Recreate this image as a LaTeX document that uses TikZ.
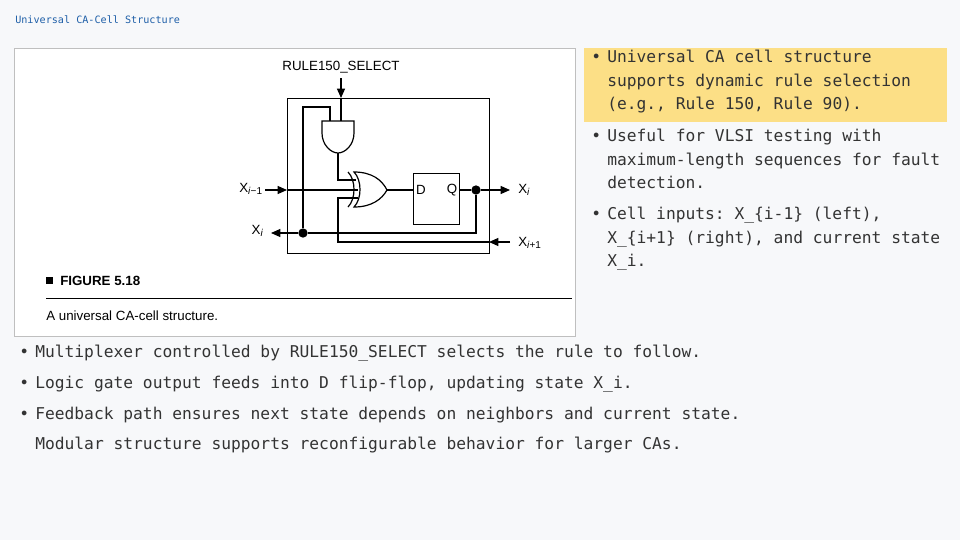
\documentclass[tikz,border=0pt]{standalone}
\usepackage{fontspec}
\setmainfont{Liberation Sans}
\setmonofont{DejaVu Sans Mono}
\usetikzlibrary{arrows.meta}
\definecolor{bg}{HTML}{F7F8FA}
\definecolor{hl}{HTML}{FCDF86}
\definecolor{ttl}{HTML}{1F5FA8}
\definecolor{txt}{HTML}{333333}
\newcommand{\sbs}[1]{\textsubscript{\fontsize{7.5}{8}\selectfont #1}}
\newcommand{\bu}{\makebox[12pt][l]{•}}
\begin{document}
\begin{tikzpicture}[x=0.75pt,y=-0.75pt,
  w/.style={line width=0.9pt},
  arr/.style={w,-{Triangle[length=7pt,width=6pt]}},
  dot/.style={circle,fill,inner sep=0pt,minimum size=7pt},
  lab/.style={font=\fontsize{10}{11}\selectfont,inner sep=0pt},
  bul/.style={font=\ttfamily\fontsize{12.2}{17.5}\selectfont,color=txt,anchor=north west,align=left,inner sep=0pt}]
\fill[bg] (0,0) rectangle (960,540);
\useasboundingbox (0,0) rectangle (960,540);
\node[font=\ttfamily\fontsize{7.6}{9}\selectfont,color=ttl,anchor=west,inner sep=0pt] (title) at (15,20) {Universal CA-Cell Structure};
% figure panel
\node[draw=black!25,fill=white,minimum width=561*0.75pt,minimum height=288*0.75pt,anchor=north west,inner sep=0pt] (panel) at (14,48) {};
\node[draw,w,minimum width=202*0.75pt,minimum height=155*0.75pt,anchor=north west,inner sep=0pt] (cell) at (287,98) {};
\node[lab] (rule) at (341,67) {RULE150\_SELECT};
\coordinate (rtop) at (341,78);
\coordinate (rin) at (341,121);
\draw[arr] (rtop) -- (341,98);
\draw[w] (341,98) -- (rin);
% AND gate
\draw[w,fill=white] (322,121) -- (354,121) -- (354,133) .. controls (354,145) and (345,153) .. (338,153) .. controls (331,153) and (322,145) .. (322,133) -- cycle;
\coordinate (andout) at (338,153);
% XOR gate
\draw[w] (348,172) .. controls (356,180) and (356,199) .. (348,207);
\draw[w,fill=white] (354,172) .. controls (372,172) and (382,180) .. (387,190) .. controls (382,199) and (372,207) .. (354,207) .. controls (362,199) and (362,180) .. (354,172) -- cycle;
\coordinate (xorout) at (387,190);
% DFF
\node[draw,w,minimum width=46*0.75pt,minimum height=51*0.75pt,anchor=north west,inner sep=0pt] (dff) at (413,173) {};
\node[lab] (D) at (421,190) {D};
\node[lab] (Q) at (452,190) {Q};
\node[dot] (d1) at (476,190) {};
\node[dot] (d2) at (303,233) {};
% wiring
\draw[w] (andout) -- (338,180) -- (356,180);
\draw[w] (xorout) -- (413,190);
\draw[w] (459,190) -- (d1);
\draw[arr] (d1) -- (510,190);
\node[lab,anchor=west] (xo) at (518,190) {X\sbs{\textit{i}}};
\draw[w] (d1) -- (476,233) -- (d2);
\draw[arr] (d2) -- (271,233);
\node[lab,anchor=east] (xl) at (264,231) {X\sbs{\textit{i}}};
\draw[w] (d2) -- (303,107) -- (330,107) -- (330,121);
\node[lab,anchor=east] (xim) at (263,189) {X\sbs{\textit{i}−1}};
\draw[arr] (265,190) -- (287,190);
\draw[w] (287,190) -- (358,190);
\draw[w] (358,198) -- (338,198) -- (338,242) -- (489,242);
\draw[arr] (510,242) -- (489,242);
\node[lab,anchor=west] (xip) at (518,243) {X\sbs{\textit{i}+1}};
\fill (46,277) rectangle (53,284);
\node[font=\bfseries\fontsize{10}{11}\selectfont,anchor=west,inner sep=0pt] (fig) at (60,281) {FIGURE 5.18};
\draw[line width=0.6pt] (46,298) -- (572,298);
\node[lab,anchor=west] (cap) at (46,316) {A universal CA-cell structure.};
% right bullets
\fill[hl] (584,48) rectangle (947,122);
\node[bul] (b1) at (591,50) {\bu Universal CA cell structure\\\hspace*{12pt}supports dynamic rule selection\\\hspace*{12pt}(e.g., Rule 150, Rule 90).};
\node[bul] (b2) at (591,129) {\bu Useful for VLSI testing with\\\hspace*{12pt}maximum-length sequences for fault\\\hspace*{12pt}detection.};
\node[bul] (b3) at (591,207) {\bu Cell inputs: X\_\{i-1\} (left),\\\hspace*{12pt}X\_\{i+1\} (right), and current state\\\hspace*{12pt}X\_i.};
\node[bul,font=\ttfamily\fontsize{12.2}{23}\selectfont] (b4) at (19,345) {\bu Multiplexer controlled by RULE150\_SELECT selects the rule to follow.\\\bu Logic gate output feeds into D flip-flop, updating state X\_i.\\\bu Feedback path ensures next state depends on neighbors and current state.\\\hspace*{12pt}Modular structure supports reconfigurable behavior for larger CAs.};
\end{tikzpicture}
\end{document}
